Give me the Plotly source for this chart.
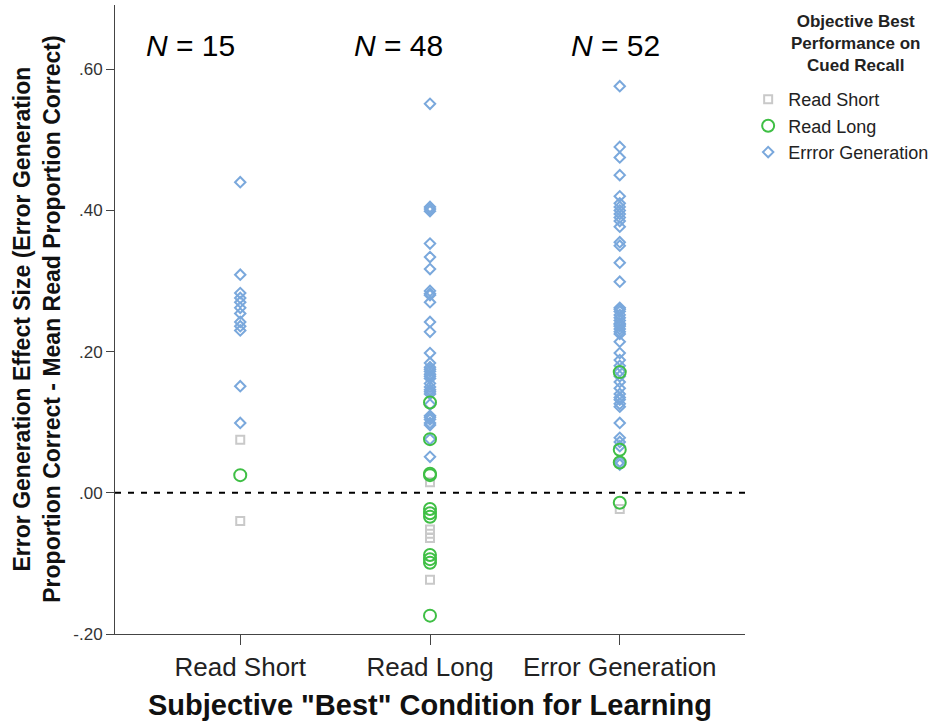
import plotly.graph_objects as go

categories = ["Read Short", "Read Long", "Error Generation"]
group_n = [15, 48, 52]

# values per subjective-best column, split by objective-best condition
rs_short = [0.075, -0.040]
rs_long = [0.025]
rs_errgen = [0.440, 0.309, 0.283, 0.276, 0.270, 0.262, 0.254, 0.242, 0.236, 0.230, 0.151, 0.099]

rl_short = [0.015, -0.052, -0.058, -0.064, -0.123]
rl_long = [0.128, 0.076, 0.027, 0.025, -0.023, -0.029, -0.034, -0.088, -0.094, -0.099, -0.174]
rl_errgen = [0.551, 0.405, 0.402, 0.399, 0.353, 0.334, 0.317, 0.286, 0.282, 0.280, 0.270,
             0.242, 0.228, 0.198, 0.184, 0.178, 0.175, 0.172, 0.168, 0.165, 0.162, 0.155,
             0.150, 0.146, 0.143, 0.140, 0.125, 0.109, 0.107, 0.104, 0.099, 0.096, 0.076, 0.051]

eg_short = [-0.023]
eg_long = [0.171, 0.061, 0.043, -0.014]
eg_errgen = [0.576, 0.490, 0.475, 0.450, 0.420, 0.410, 0.405, 0.400, 0.395, 0.390, 0.385,
             0.377, 0.355, 0.350, 0.326, 0.299, 0.262, 0.260, 0.257, 0.252, 0.248, 0.244,
             0.240, 0.238, 0.236, 0.232, 0.228, 0.225, 0.214, 0.198, 0.188, 0.180, 0.172,
             0.165, 0.157, 0.148, 0.140, 0.135, 0.132, 0.126, 0.122, 0.099, 0.078, 0.072,
             0.066, 0.044, 0.040]

y_tickvals = [-0.2, 0.0, 0.2, 0.4, 0.6]
y_ticktext = ["-.20", ".00", ".20", ".40", ".60"]

def xs(vals, cat):
    return [cat] * len(vals)

FONT = "Liberation Sans, Arial, sans-serif"
fig = go.Figure()

short_y = rs_short + rl_short + eg_short
short_x = xs(rs_short, categories[0]) + xs(rl_short, categories[1]) + xs(eg_short, categories[2])
err_y = rs_errgen + rl_errgen + eg_errgen
err_x = xs(rs_errgen, categories[0]) + xs(rl_errgen, categories[1]) + xs(eg_errgen, categories[2])
long_y = rs_long + rl_long + eg_long
long_x = xs(rs_long, categories[0]) + xs(rl_long, categories[1]) + xs(eg_long, categories[2])

fig.add_trace(go.Scatter(x=short_x, y=short_y, mode="markers", name="Read Short", legendrank=1,
                         marker=dict(symbol="square-open", size=8, color="#c9c9c9", line=dict(width=2))))
fig.add_trace(go.Scatter(x=err_x, y=err_y, mode="markers", name="Errror Generation", legendrank=3,
                         marker=dict(symbol="diamond-open", size=8, color="#7aa8dc", line=dict(width=2))))
fig.add_trace(go.Scatter(x=long_x, y=long_y, mode="markers", name="Read Long", legendrank=2,
                         marker=dict(symbol="circle-open", size=12, color="#3fbf45", line=dict(width=2))))

fig.add_shape(type="line", xref="paper", yref="y", x0=0, x1=1, y0=0, y1=0,
              line=dict(color="black", width=2, dash="6px,7px"))

n_x = [-0.26, 0.835, 1.98]
for cx, n in zip(n_x, group_n):
    fig.add_annotation(x=cx, y=0.633, xref="x", yref="y", text=f"<i>N</i> = {n}", showarrow=False,
                       font=dict(family=FONT, size=30, color="black"))

fig.add_annotation(x=-0.125, y=0.5, xref="paper", yref="paper", textangle=-90, showarrow=False,
                   xanchor="center", yanchor="middle",
                   text="<b>Error Generation Effect Size (Error Generation<br>Proportion Correct - Mean Read Proportion Correct)</b>",
                   font=dict(family=FONT, size=23, color="#111"))
fig.add_annotation(x=0.5, y=-0.113, xref="paper", yref="paper", showarrow=False,
                   xanchor="center", yanchor="middle",
                   text="<b>Subjective \"Best\" Condition for Learning</b>",
                   font=dict(family=FONT, size=29, color="#111"))
fig.add_annotation(x=1.175, y=0.992, xref="paper", yref="paper", showarrow=False,
                   xanchor="center", yanchor="top",
                   text="<b>Objective Best<br>Performance on<br>Cued Recall</b>",
                   font=dict(family=FONT, size=17, color="#222"))

fig.update_layout(
    width=945, height=725,
    margin=dict(l=115, r=200, t=5, b=91, autoexpand=False),
    plot_bgcolor="white", paper_bgcolor="white",
    font=dict(family=FONT, color="#222"),
    showlegend=True,
    legend=dict(x=1.005, y=0.879, xanchor="left", yanchor="top", itemwidth=30,
                font=dict(family=FONT, size=18, color="#222"), tracegroupgap=0),
    xaxis=dict(type="category", categoryorder="array", categoryarray=categories,
               range=[-0.66, 2.66], showline=True, linecolor="#444", linewidth=1,
               ticks="outside", ticklen=10, tickcolor="#444", showgrid=False, zeroline=False,
               tickfont=dict(family=FONT, size=26, color="#222")),
    yaxis=dict(range=[-0.2, 0.691], tickvals=y_tickvals, ticktext=y_ticktext,
               showline=True, linecolor="#444", linewidth=1, ticks="outside", ticklen=8,
               tickcolor="#444", showgrid=False, zeroline=False,
               tickfont=dict(family=FONT, size=17, color="#333")),
)

fig.write_html("out.html")
